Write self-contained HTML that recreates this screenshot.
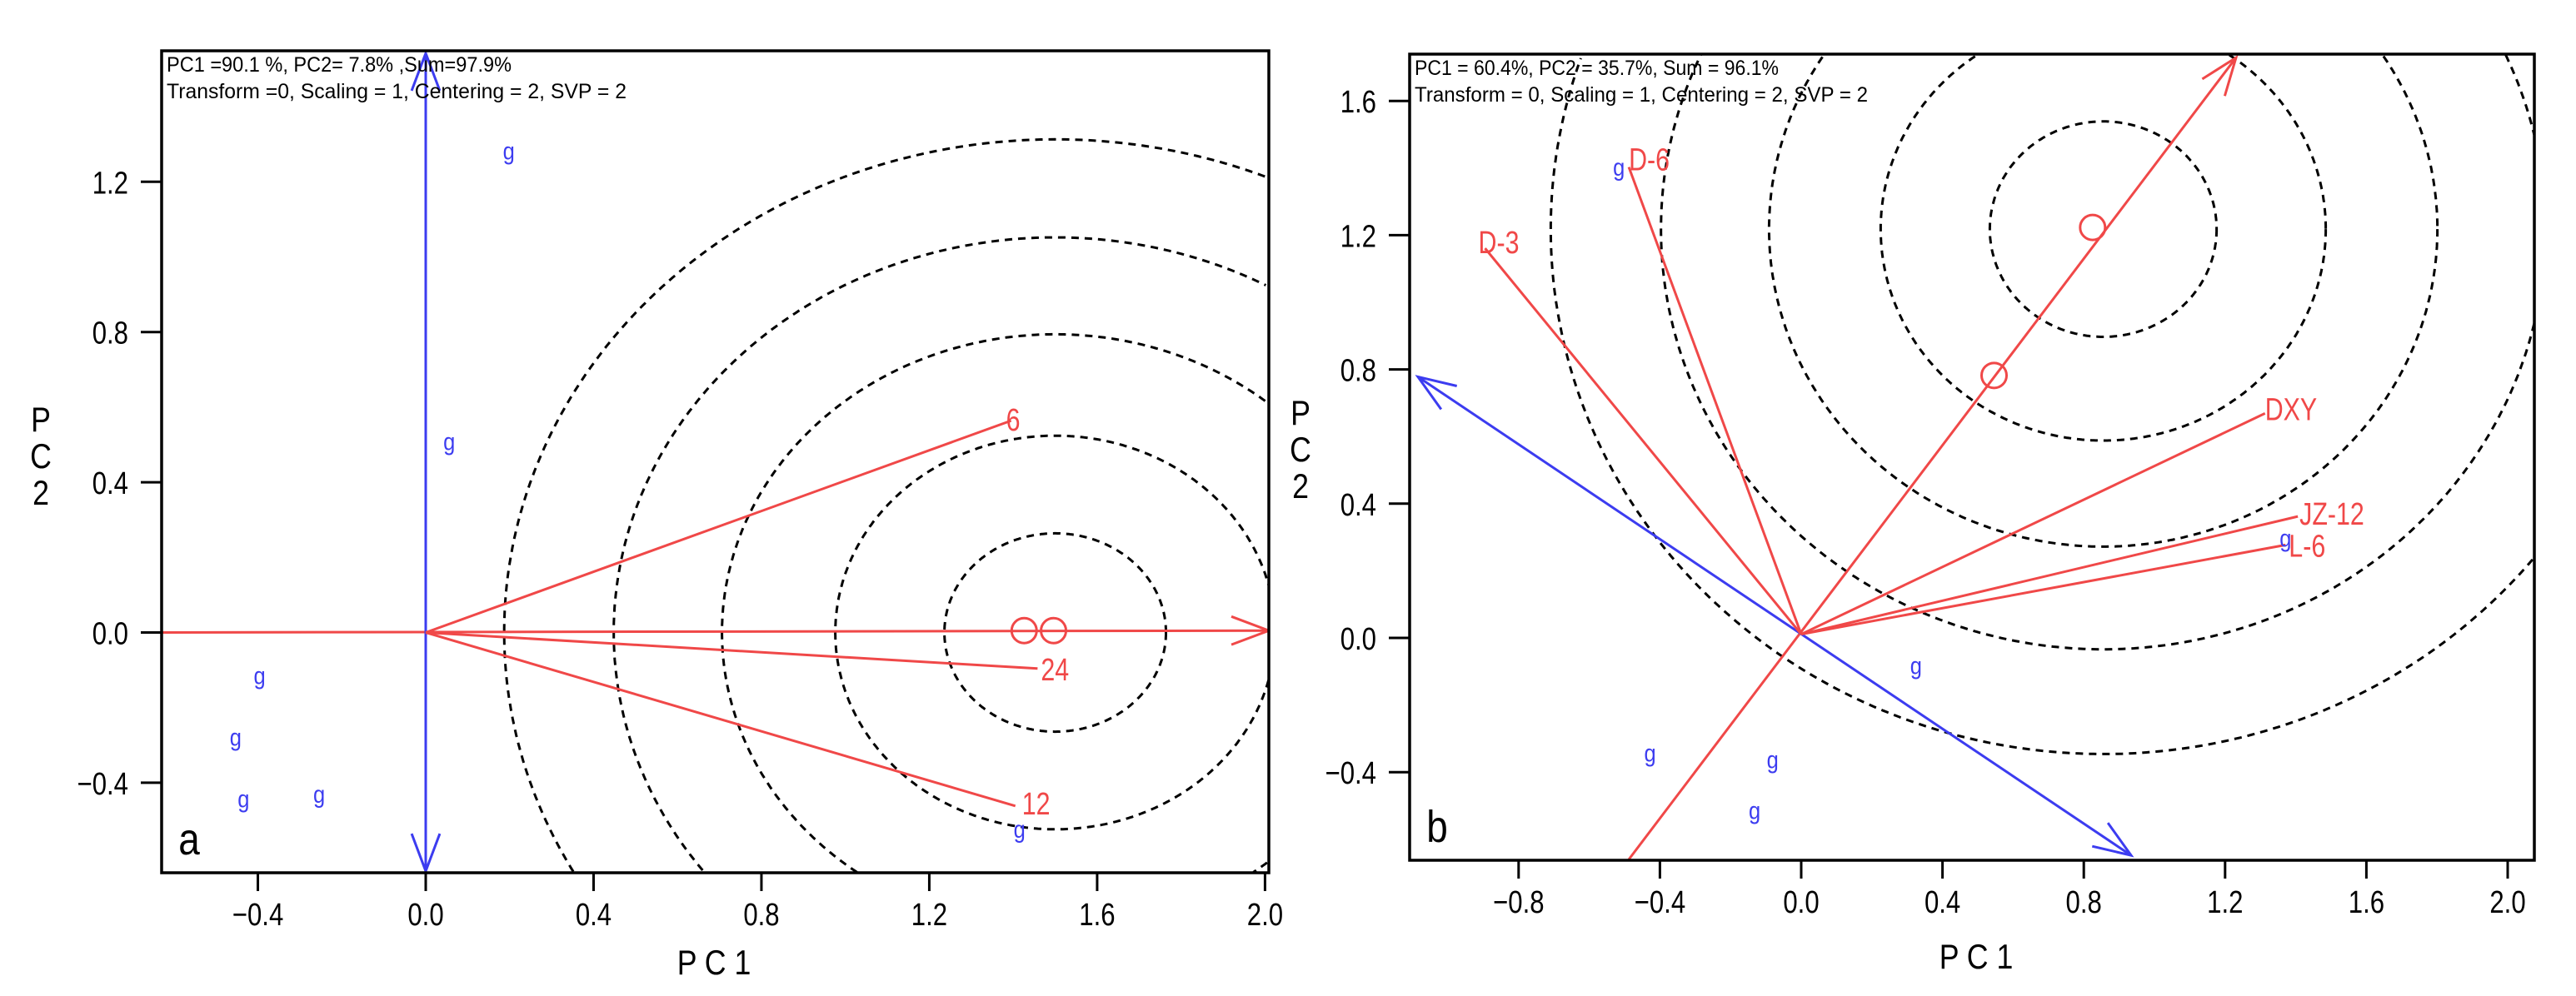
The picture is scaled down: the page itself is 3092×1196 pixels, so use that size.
<!DOCTYPE html>
<html><head><meta charset="utf-8"><style>
html,body{margin:0;padding:0;background:#fff;overflow:hidden;width:3092px;height:1196px;}
svg{display:block;position:absolute;left:0;top:0;}
text{font-family:"Liberation Sans",sans-serif;}
</style></head><body>
<svg id="chart" xmlns="http://www.w3.org/2000/svg" width="3092" height="1196" viewBox="0 0 3092 1196"></svg>
<script>
// ---------- Panel a data ----------
const aXTicks = [-0.4, 0.0, 0.4, 0.8, 1.2, 1.6, 2.0];
const aYTicks = [-0.4, 0.0, 0.4, 0.8, 1.2];
const aRingCenter = [1.50, 0.0];
const aRingRadii = [0.264, 0.524, 0.794, 1.052, 1.313];
const aVecLabels = ["6", "24", "12"];
const aVecX = [1.395, 1.458, 1.405];
const aVecY = [0.564, -0.096, -0.462];
const aMarkX = [1.426, 1.496];
const aMarkY = [0.005, 0.005];
const aGenoX = [0.198, 0.056, -0.396, -0.453, -0.434, -0.254, 1.415];
const aGenoY = [1.273, 0.499, -0.124, -0.288, -0.452, -0.44, -0.533];

// ---------- Panel b data ----------
const bXTicks = [-0.8, -0.4, 0.0, 0.4, 0.8, 1.2, 1.6, 2.0];
const bYTicks = [-0.4, 0.0, 0.4, 0.8, 1.2, 1.6];
const bRingCenter = [0.855, 1.218];
const bRingRadii = [0.321, 0.63, 0.946, 1.252, 1.564];
const bVecLabels = ["D-6", "D-3", "DXY", "JZ-12", "L-6"];
const bVecX = [-0.488, -0.895, 1.313, 1.406, 1.371];
const bVecY = [1.403, 1.161, 0.669, 0.362, 0.277];
const bMarkX = [0.825, 0.546];
const bMarkY = [1.223, 0.782];
const bGenoX = [-0.516, 1.371, 0.325, -0.428, -0.081, -0.132];
const bGenoY = [1.392, 0.286, -0.093, -0.354, -0.373, -0.525];

const RED = "#f04848", BLUE = "#3c3cf0";
const NS = "http://www.w3.org/2000/svg";
const svg = document.getElementById("chart");
function mk(tag, attrs, parent) {
  const e = document.createElementNS(NS, tag);
  for (const k in attrs) e.setAttribute(k, attrs[k]);
  (parent || svg).appendChild(e);
  return e;
}
function txt(s, x, y, size, fill, anchor, sx, parent) {
  const t = mk("text", {x: 0, y: 0, "font-size": size, fill: fill, "text-anchor": anchor,
    transform: "translate(" + x + "," + y + ") scale(" + sx + ",1)"}, parent);
  t.textContent = s;
  return t;
}
function arrowHead(x1, y1, x2, y2, color, g) {
  const a = Math.atan2(y2 - y1, x2 - x1), L = 48, w = 0.36;
  const p1 = [x2 - L * Math.cos(a - w), y2 - L * Math.sin(a - w)];
  const p2 = [x2 - L * Math.cos(a + w), y2 - L * Math.sin(a + w)];
  const p = mk("polyline", {points: p1.join(",") + " " + x2 + "," + y2 + " " + p2.join(","),
    fill: "none", stroke: color, "stroke-width": 3}, g);
  
  
}
function fmt(v) { return (v < 0 ? "\u2212" : "") + Math.abs(v).toFixed(1); }

function ringPath(cx, cy, rx, ry, L, R, T, B) {
  let d = "", pen = false;
  const N = 720;
  for (let i = 0; i <= N; i++) {
    const t = i / N * Math.PI * 2;
    const x = cx + rx * Math.cos(t), y = cy + ry * Math.sin(t);
    const inside = x >= L && x <= R && y >= T && y <= B;
    if (inside) { d += (pen ? "L" : "M") + x.toFixed(1) + "," + y.toFixed(1); pen = true; }
    else pen = false;
  }
  return d || "M0,0";
}

function panel(cfg) {
  const g = mk("g", {});
  
  
  const X = v => cfg.x0 + v * cfg.sx;
  const Y = v => cfg.y0 - v * cfg.sy;
  const clipId = cfg.name + "-clip";
  const defs = mk("defs", {}, g);
  const cp = mk("clipPath", {id: clipId}, defs);
  mk("rect", {x: cfg.L, y: cfg.T, width: cfg.R - cfg.L, height: cfg.B - cfg.T}, cp);
  const plot = mk("g", {"clip-path": "url(#" + clipId + ")"}, g);
  
  
  cfg.rings.forEach(r => {
    const e = mk("path", {d: ringPath(X(cfg.rc[0]), Y(cfg.rc[1]), r * cfg.sx, r * cfg.sy, cfg.L, cfg.R, cfg.T, cfg.B),
      fill: "none", stroke: "#000", "stroke-width": 3, "stroke-dasharray": "9 7"}, plot);
    
    
  });
  cfg.draw(plot, X, Y);
  cfg.vx.forEach((vx, i) => {
    const l = mk("line", {x1: X(cfg.origin[0]), y1: Y(cfg.origin[1]), x2: X(vx), y2: Y(cfg.vy[i]),
      stroke: RED, "stroke-width": 3}, plot);
    
    
    const t = txt(cfg.vl[i], X(vx) + (cfg.lblDx ? cfg.lblDx[i] : 6), Y(cfg.vy[i]) + (cfg.lblDy ? cfg.lblDy[i] : 12), 38, RED, "start", 0.8, plot);
    
    
  });
  cfg.mx.forEach((mx, i) => {
    const c = mk("circle", {cx: X(mx), cy: Y(cfg.my[i]), r: 15, fill: "none", stroke: RED, "stroke-width": 3}, plot);
    
    
  });
  cfg.gx.forEach((gx, i) => {
    const t = txt("g", X(gx), Y(cfg.gy[i]) + 6, 30, BLUE, "middle", 0.85, plot);
    
    
  });
  const f = mk("rect", {x: cfg.L, y: cfg.T, width: cfg.R - cfg.L, height: cfg.B - cfg.T, fill: "none", stroke: "#000", "stroke-width": 3.5}, g);
  
  
  cfg.xt.forEach(v => {
    const l = mk("line", {x1: X(v), x2: X(v), y1: cfg.B, y2: cfg.B + 22, stroke: "#000", "stroke-width": 3}, g);
    
    
    const t = txt(fmt(v), X(v), cfg.B + 63, 38, "#000", "middle", 0.82, g);
    
    
  });
  cfg.yt.forEach(v => {
    const l = mk("line", {x1: cfg.L - 25, x2: cfg.L, y1: Y(v), y2: Y(v), stroke: "#000", "stroke-width": 3}, g);
    
    
    const t = txt(fmt(v), cfg.L - 40, Y(v) + 14, 38, "#000", "end", 0.82, g);
    
    
  });
  const a1 = mk("text", {x: cfg.L + 6, y: cfg.T + 25, "font-size": 25, fill: "#000", textLength: cfg.w1, lengthAdjust: "spacingAndGlyphs"}, g);
  a1.textContent = cfg.ann1;
  
  
  const a2 = mk("text", {x: cfg.L + 6, y: cfg.T + 57, "font-size": 25, fill: "#000", textLength: cfg.w2, lengthAdjust: "spacingAndGlyphs"}, g);
  a2.textContent = cfg.ann2;
  
  
  const pl = txt(cfg.letter, cfg.L + 33, cfg.B - 22, 54, "#000", "middle", 0.85, g);
  
  
  const xt = txt("P C 1", cfg.xtX, cfg.xtY, 42, "#000", "middle", 0.85, g);
  
  
  ["P", "C", "2"].forEach((s, i) => {
    const t = txt(s, cfg.ytX, cfg.ytY + i * 44, 42, "#000", "middle", 0.85, g);
    
    
  });
}

panel({
  name: "panel-a", L: 194, R: 1523, T: 61, B: 1048, x0: 511, sx: 503.7, y0: 759.5, sy: 451,
  xt: aXTicks, yt: aYTicks, rc: aRingCenter, rings: aRingRadii,
  origin: [0, 0], vx: aVecX, vy: aVecY, vl: aVecLabels, lblDx: [-6, 4, 8], lblDy: [12, 14, 10],
  mx: aMarkX, my: aMarkY, gx: aGenoX, gy: aGenoY,
  ann1: "PC1 =90.1 %, PC2= 7.8% ,Sum=97.9%", ann2: "Transform =0, Scaling = 1, Centering = 2, SVP = 2",
  w1: 414, w2: 552, letter: "a", xtX: 857, xtY: 1170, ytX: 49, ytY: 518,
  draw: (g, X, Y) => {
    const l = mk("line", {x1: 194, y1: Y(0), x2: X(2.013), y2: Y(0.005), stroke: RED, "stroke-width": 3}, g);
    
    
    arrowHead(X(0), Y(0.005), X(2.013) - 2, Y(0.005), RED, g);
    const b = mk("line", {x1: X(0), y1: 1048, x2: X(0), y2: 64, stroke: BLUE, "stroke-width": 3}, g);
    
    
    arrowHead(X(0), 500, X(0), 64, BLUE, g);
    arrowHead(X(0), 500, X(0), 1046, BLUE, g);
  }
});

panel({
  name: "panel-b", L: 1692, R: 3042, T: 65, B: 1033, x0: 2162, sx: 424, y0: 766, sy: 403,
  xt: bXTicks, yt: bYTicks, rc: bRingCenter, rings: bRingRadii,
  origin: [0, 0.011], vx: bVecX, vy: bVecY, vl: bVecLabels, lblDx: [0, -8, 0, 2, 4], lblDy: [4, 6, 8, 10, 14],
  mx: bMarkX, my: bMarkY, gx: bGenoX, gy: bGenoY,
  ann1: "PC1 = 60.4%, PC2 = 35.7%, Sum = 96.1%", ann2: "Transform = 0, Scaling = 1,  Centering = 2, SVP = 2",
  w1: 437, w2: 544, letter: "b", xtX: 2372, xtY: 1163, ytX: 1561, ytY: 510,
  draw: (g, X, Y) => {
    const l = mk("line", {x1: X(-0.488), y1: Y(-0.66), x2: X(1.231), y2: Y(1.729), stroke: RED, "stroke-width": 3}, g);
    
    
    arrowHead(X(0), Y(0.011), X(1.231), Y(1.729), RED, g);
    const b = mk("line", {x1: X(-1.085), y1: Y(0.778), x2: X(0.934), y2: Y(-0.648), stroke: BLUE, "stroke-width": 3}, g);
    
    
    arrowHead(X(0), Y(0.011), X(-1.085), Y(0.778), BLUE, g);
    arrowHead(X(0), Y(0.011), X(0.934), Y(-0.648), BLUE, g);
  }
});
</script>
</body></html>
